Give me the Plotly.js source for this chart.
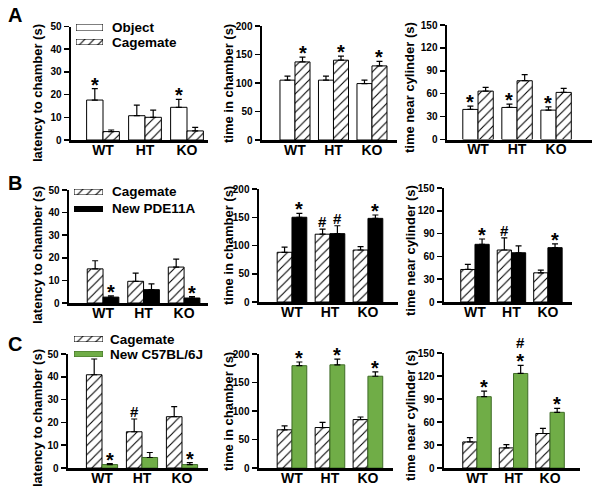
<!DOCTYPE html>
<html>
<head>
<meta charset="utf-8">
<script src="https://cdn.plot.ly/plotly-3.0.1.min.js"></script>
<style>html,body{margin:0;padding:0;background:#fff;}#chart{width:601px;height:489px;}</style>
</head>
<body>
<div id="chart"></div>
<script>
// ---------- DATA ----------
const genotypes = ['WT', 'HT', 'KO'];

// Row A: Object vs Cagemate
const A_latency_object = [17.6, 10.7, 14.4];
const A_latency_object_err = [5.0, 4.7, 3.5];
const A_latency_cagemate = [3.7, 10.0, 4.0];
const A_latency_cagemate_err = [0.7, 3.2, 1.6];
const A_time_object = [105, 105, 99];
const A_time_object_err = [7, 7, 6];
const A_time_cagemate = [137, 140, 130];
const A_time_cagemate_err = [8.5, 7, 8];
const A_cyl_object = [39.4, 42, 38.5];
const A_cyl_object_err = [4.4, 4.4, 4.3];
const A_cyl_cagemate = [63.4, 77, 61.7];
const A_cyl_cagemate_err = [4.8, 7.9, 5.2];

// Row B: Cagemate vs New PDE11A
const B_latency_cagemate = [15.1, 9.6, 15.9];
const B_latency_cagemate_err = [3.6, 3.6, 3.5];
const B_latency_new = [2.6, 5.9, 2.2];
const B_latency_new_err = [0.6, 2.6, 0.6];
const B_time_cagemate = [88, 120, 92];
const B_time_cagemate_err = [9, 9, 6];
const B_time_new = [150, 121, 148];
const B_time_new_err = [7, 14, 6];
const B_cyl_cagemate = [42.8, 68.4, 38.4];
const B_cyl_cagemate_err = [6.6, 16, 3.5];
const B_cyl_new = [75.9, 64.8, 71.5];
const B_cyl_new_err = [7, 9, 5];

// Row C: Cagemate vs New C57BL/6J
const C_latency_cagemate = [40.9, 15.9, 22.5];
const C_latency_cagemate_err = [6.9, 5.6, 4.4];
const C_latency_new = [1.5, 4.6, 1.5];
const C_latency_new_err = [0.4, 2.2, 0.9];
const C_time_cagemate = [67, 71, 85];
const C_time_cagemate_err = [7, 9, 4.5];
const C_time_new = [179.5, 181, 161];
const C_time_new_err = [6.5, 10, 7.5];
const C_cyl_cagemate = [34, 26.2, 45];
const C_cyl_cagemate_err = [5.7, 4.4, 6.6];
const C_cyl_new = [93, 123.3, 72.6];
const C_cyl_new_err = [7.4, 10.5, 5.2];

// Significance marks (first series, second series)
const A_latency_marks = [['*', '', '*'], ['', '', '']];
const A_time_marks = [['', '', ''], ['*', '*', '*']];
const A_cyl_marks = [['*', '*', '*'], ['', '', '']];
const B_latency_marks = [['', '', ''], ['*', '', '*']];
const B_time_marks = [['', '#', ''], ['*', '#', '*']];
const B_cyl_marks = [['', '#', ''], ['*', '', '*']];
const C_latency_marks = [['', '#', ''], ['*', '', '*']];
const C_time_marks = [['', '', ''], ['*', '*', '*']];
const C_cyl_marks = [['', '', ''], ['*', '#*', '*']];

// Labels
const panelLetters = ['A', 'B', 'C'];
const yTitles = ['latency to chamber (s)', 'time in chamber (s)', 'time near cylinder (s)'];
const legendA = ['Object', 'Cagemate'];
const legendB = ['Cagemate', 'New PDE11A'];
const legendC = ['Cagemate', 'New C57BL/6J'];

// ---------- STYLE ----------
const W = 601, H = 489;
const FONT = 'Liberation Sans, Arial, Helvetica, sans-serif';
const styles = {
  object: {color: 'white', line: {color: 'black', width: 1}},
  cagemate: {color: 'white', line: {color: 'black', width: 1},
    pattern: {shape: '/', fgcolor: 'black', bgcolor: 'white', size: 6.5, solidity: 0.17}},
  pde: {color: 'black', line: {color: 'black', width: 1}},
  c57: {color: '#70ad47', line: {color: '#3e6b26', width: 1}}
};

// panel geometry in pixels
const panels = [
  {x0: 71, x1: 208, yb: 140, yt: 26.5, xr: [-0.762, 2.5], ymax: 50, dt: 10},
  {x0: 262, x1: 397, yb: 140, yt: 26, xr: [-0.857, 2.65], ymax: 200, dt: 50},
  {x0: 447, x1: 592, yb: 139.5, yt: 25, xr: [-0.795, 2.92], ymax: 150, dt: 30},
  {x0: 69, x1: 208, yb: 303, yt: 190, xr: [-0.84, 2.59], ymax: 50, dt: 10},
  {x0: 259, x1: 398, yb: 302, yt: 189, xr: [-0.868, 2.79], ymax: 200, dt: 50},
  {x0: 444, x1: 572, yb: 302, yt: 188, xr: [-0.849, 2.66], ymax: 150, dt: 30},
  {x0: 68, x1: 208, yb: 468, yt: 354, xr: [-0.85, 2.65], ymax: 50, dt: 10},
  {x0: 259, x1: 393, yb: 468, yt: 354, xr: [-0.868, 2.66], ymax: 200, dt: 50},
  {x0: 444, x1: 580, yb: 468, yt: 353, xr: [-0.904, 2.82], ymax: 150, dt: 30}
];

const panelData = [
  [[A_latency_object, A_latency_object_err, 'object'], [A_latency_cagemate, A_latency_cagemate_err, 'cagemate'], A_latency_marks],
  [[A_time_object, A_time_object_err, 'object'], [A_time_cagemate, A_time_cagemate_err, 'cagemate'], A_time_marks],
  [[A_cyl_object, A_cyl_object_err, 'object'], [A_cyl_cagemate, A_cyl_cagemate_err, 'cagemate'], A_cyl_marks],
  [[B_latency_cagemate, B_latency_cagemate_err, 'cagemate'], [B_latency_new, B_latency_new_err, 'pde'], B_latency_marks],
  [[B_time_cagemate, B_time_cagemate_err, 'cagemate'], [B_time_new, B_time_new_err, 'pde'], B_time_marks],
  [[B_cyl_cagemate, B_cyl_cagemate_err, 'cagemate'], [B_cyl_new, B_cyl_new_err, 'pde'], B_cyl_marks],
  [[C_latency_cagemate, C_latency_cagemate_err, 'cagemate'], [C_latency_new, C_latency_new_err, 'c57'], C_latency_marks],
  [[C_time_cagemate, C_time_cagemate_err, 'cagemate'], [C_time_new, C_time_new_err, 'c57'], C_time_marks],
  [[C_cyl_cagemate, C_cyl_cagemate_err, 'cagemate'], [C_cyl_new, C_cyl_new_err, 'c57'], C_cyl_marks]
];

const traces = [];
const annotations = [];
const layout = {
  width: W, height: H,
  margin: {l: 0, r: 0, t: 0, b: 0},
  paper_bgcolor: 'white', plot_bgcolor: 'rgba(0,0,0,0)',
  showlegend: false,
  barmode: 'group', bargap: 0.22, bargroupgap: 0,
  font: {family: FONT, color: 'black'},
  annotations: annotations
};

const BARW = (1 - 0.22) / 2;

panels.forEach((p, k) => {
  const i = k + 1;
  const xs = i === 1 ? '' : String(i);
  layout['xaxis' + xs] = {
    domain: [p.x0 / W, p.x1 / W], range: p.xr, type: 'category', anchor: 'y' + xs,
    showline: true, linewidth: 3, linecolor: 'black', ticks: '',
    ticklabelstandoff: -5,
    tickfont: {family: FONT, size: 14, weight: 'bold', color: 'black'},
    showgrid: false, zeroline: false, fixedrange: true
  };
  layout['yaxis' + xs] = {
    domain: [1 - p.yb / H, 1 - p.yt / H], range: [0, p.ymax], anchor: 'x' + xs,
    showline: true, linewidth: 2.5, linecolor: 'black',
    ticks: 'outside', ticklen: 5, tickwidth: 1.5, tickcolor: 'black',
    tick0: 0, dtick: p.dt,
    tickfont: {family: FONT, size: 10, weight: 'bold', color: 'black'},
    showgrid: false, zeroline: false, fixedrange: true
  };
  const d = panelData[k];
  [d[0], d[1]].forEach((s, j) => {
    traces.push({
      type: 'bar', x: genotypes, y: s[0], xaxis: 'x' + xs, yaxis: 'y' + xs,
      offsetgroup: String(j),
      marker: styles[s[2]],
      error_y: {type: 'data', symmetric: false, array: s[1], arrayminus: s[1].map(() => 0),
        color: 'black', thickness: 1.2, width: 3},
      hoverinfo: 'skip'
    });
  });
  // significance marks
  d[2].forEach((marks, j) => {
    const s = d[j];
    marks.forEach((m, g) => {
      if (!m) return;
      const xpos = g + (j === 0 ? -BARW / 2 : BARW / 2);
      const top = s[0][g] + s[1][g];
      const endsStar = m.slice(-1) === '*';
      const text = m.split('').map(c => c === '*' ? "<span style='font-size:20px'>*</span>" : c).join('<br>');
      annotations.push({
        xref: 'x' + xs, yref: 'y' + xs, x: xpos, y: top,
        text: text, showarrow: false, xanchor: 'center', yanchor: 'bottom',
        yshift: endsStar ? -9 : -3,
        font: {family: FONT, size: endsStar && m.length === 1 ? 20 : 15, weight: 'bold', color: 'black'}
      });
    });
  });
  // y-axis title
  const titleX = [37, 228, 410][k % 3];
  const titleY = [[93, 84, 87], [255, 246, 250], [418, 412, 415]][Math.floor(k / 3)][k % 3];
  annotations.push({
    xref: 'paper', yref: 'paper', x: titleX / W, y: 1 - titleY / H,
    text: yTitles[k % 3], textangle: -90, showarrow: false,
    xanchor: 'center', yanchor: 'middle',
    font: {family: FONT, size: 13, weight: 'bold', color: 'black'}
  });
});

// panel letters
[[15, 15], [15, 183], [15, 344]].forEach((pos, r) => {
  annotations.push({
    xref: 'paper', yref: 'paper', x: pos[0] / W, y: 1 - pos[1] / H,
    text: panelLetters[r], showarrow: false, xanchor: 'center', yanchor: 'middle',
    font: {family: FONT, size: 20, weight: 'bold', color: 'black'}
  });
});

// legends: swatch boxes drawn as single-bar mini axes
const legends = [
  {labels: legendA, styles: ['object', 'cagemate'], boxes: [[76, 103, 24, 31], [76, 103, 39, 45]], tx: 110, ty: [27.5, 42.5]},
  {labels: legendB, styles: ['cagemate', 'pde'], boxes: [[74, 103, 189, 195], [74, 103, 206, 212]], tx: 110, ty: [192, 208.5]},
  {labels: legendC, styles: ['cagemate', 'c57'], boxes: [[74, 103, 336, 342], [74, 103, 351, 357]], tx: 108, ty: [339, 354]}
];
let ax = 10;
legends.forEach(lg => {
  lg.labels.forEach((lab, j) => {
    const b = lg.boxes[j];
    const s = String(ax++);
    layout['xaxis' + s] = {domain: [b[0] / W, b[1] / W], range: [0, 1], visible: false, anchor: 'y' + s, fixedrange: true};
    layout['yaxis' + s] = {domain: [1 - b[3] / H, 1 - b[2] / H], range: [0, 1], visible: false, anchor: 'x' + s, fixedrange: true};
    traces.push({
      type: 'bar', x: [0.5], y: [1], width: [1], xaxis: 'x' + s, yaxis: 'y' + s,
      marker: styles[lg.styles[j]], hoverinfo: 'skip', name: lab
    });
    annotations.push({
      xref: 'paper', yref: 'paper', x: lg.tx / W, y: 1 - lg.ty[j] / H,
      text: lab, showarrow: false, xanchor: 'left', yanchor: 'middle',
      font: {family: FONT, size: 13.5, weight: 'bold', color: 'black'}
    });
  });
});

Plotly.newPlot('chart', traces, layout, {displayModeBar: false, staticPlot: true});
</script>
</body>
</html>
